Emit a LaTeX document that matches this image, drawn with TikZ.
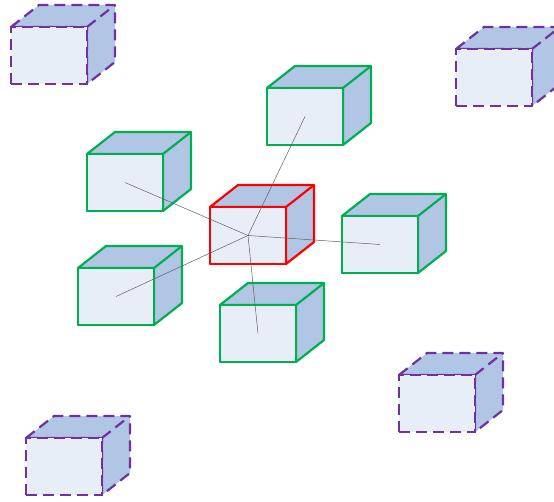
\documentclass[tikz,border=0pt]{standalone}
\usepackage{xcolor}
\definecolor{face-front}{HTML}{E8EEF8}
\definecolor{face-side}{HTML}{B1C5E5}
\definecolor{edge-green}{HTML}{00B050}
\definecolor{edge-red}{HTML}{FF0000}
\definecolor{edge-purple}{HTML}{7030A0}
\definecolor{link-gray}{HTML}{5F5F5F}

\tikzset{
  cubeface/.style={minimum width=76pt, minimum height=57pt, inner sep=0pt,
    outer sep=0pt, anchor=north west, fill=face-front},
  cubeedge/.style={line width=2.2pt, line join=round},
  greenbox/.style={draw=edge-green},
  redbox/.style={draw=edge-red},
  ghostbox/.style={draw=edge-purple, dash pattern=on 11pt off 6pt},
  link/.style={draw=link-gray, line width=0.5pt}
}

% one box: front face is a named node, top and side drawn from its anchors
\newcommand{\cubebox}[4]{%
  \node[cubeface, cubeedge, #4] (#1) at (#2,#3) {};
  \filldraw[fill=face-side, cubeedge, #4] (#1.north west) -- ++(28,-22)
    -- ++(76,0) -- ++(0,57) -- (#1.south east) -- (#1.north east) -- cycle;
  \draw[cubeedge, #4] (#1.north east) -- ++(28,-22);
  \node[cubeface, cubeedge, #4] at (#2,#3) {};
}

\begin{document}
\begin{tikzpicture}[x=1pt, y=-1pt]
  \useasboundingbox (0,0) rectangle (554,502);
  % Coordinates: top-left corner of each front face, in pixels (y down)
  \foreach \name/\x/\y/\kind in {ghostA/11/27/ghostbox, ghostB/456/49/ghostbox,
      ghostC/399/375/ghostbox, ghostD/26/438/ghostbox,
      boxT/267/88/greenbox, boxL/87/154/greenbox, boxR/342/216/greenbox,
      boxLL/78/268/greenbox, boxB/220/305/greenbox, hub/210/207/redbox} {
    \cubebox{\name}{\x}{\y}{\kind}
  }
  % links from the centre box to its neighbours
  \foreach \n in {boxT, boxL, boxR, boxLL, boxB} {
    \draw[link] (hub.center) -- (\n.center);
  }
\end{tikzpicture}
\end{document}
